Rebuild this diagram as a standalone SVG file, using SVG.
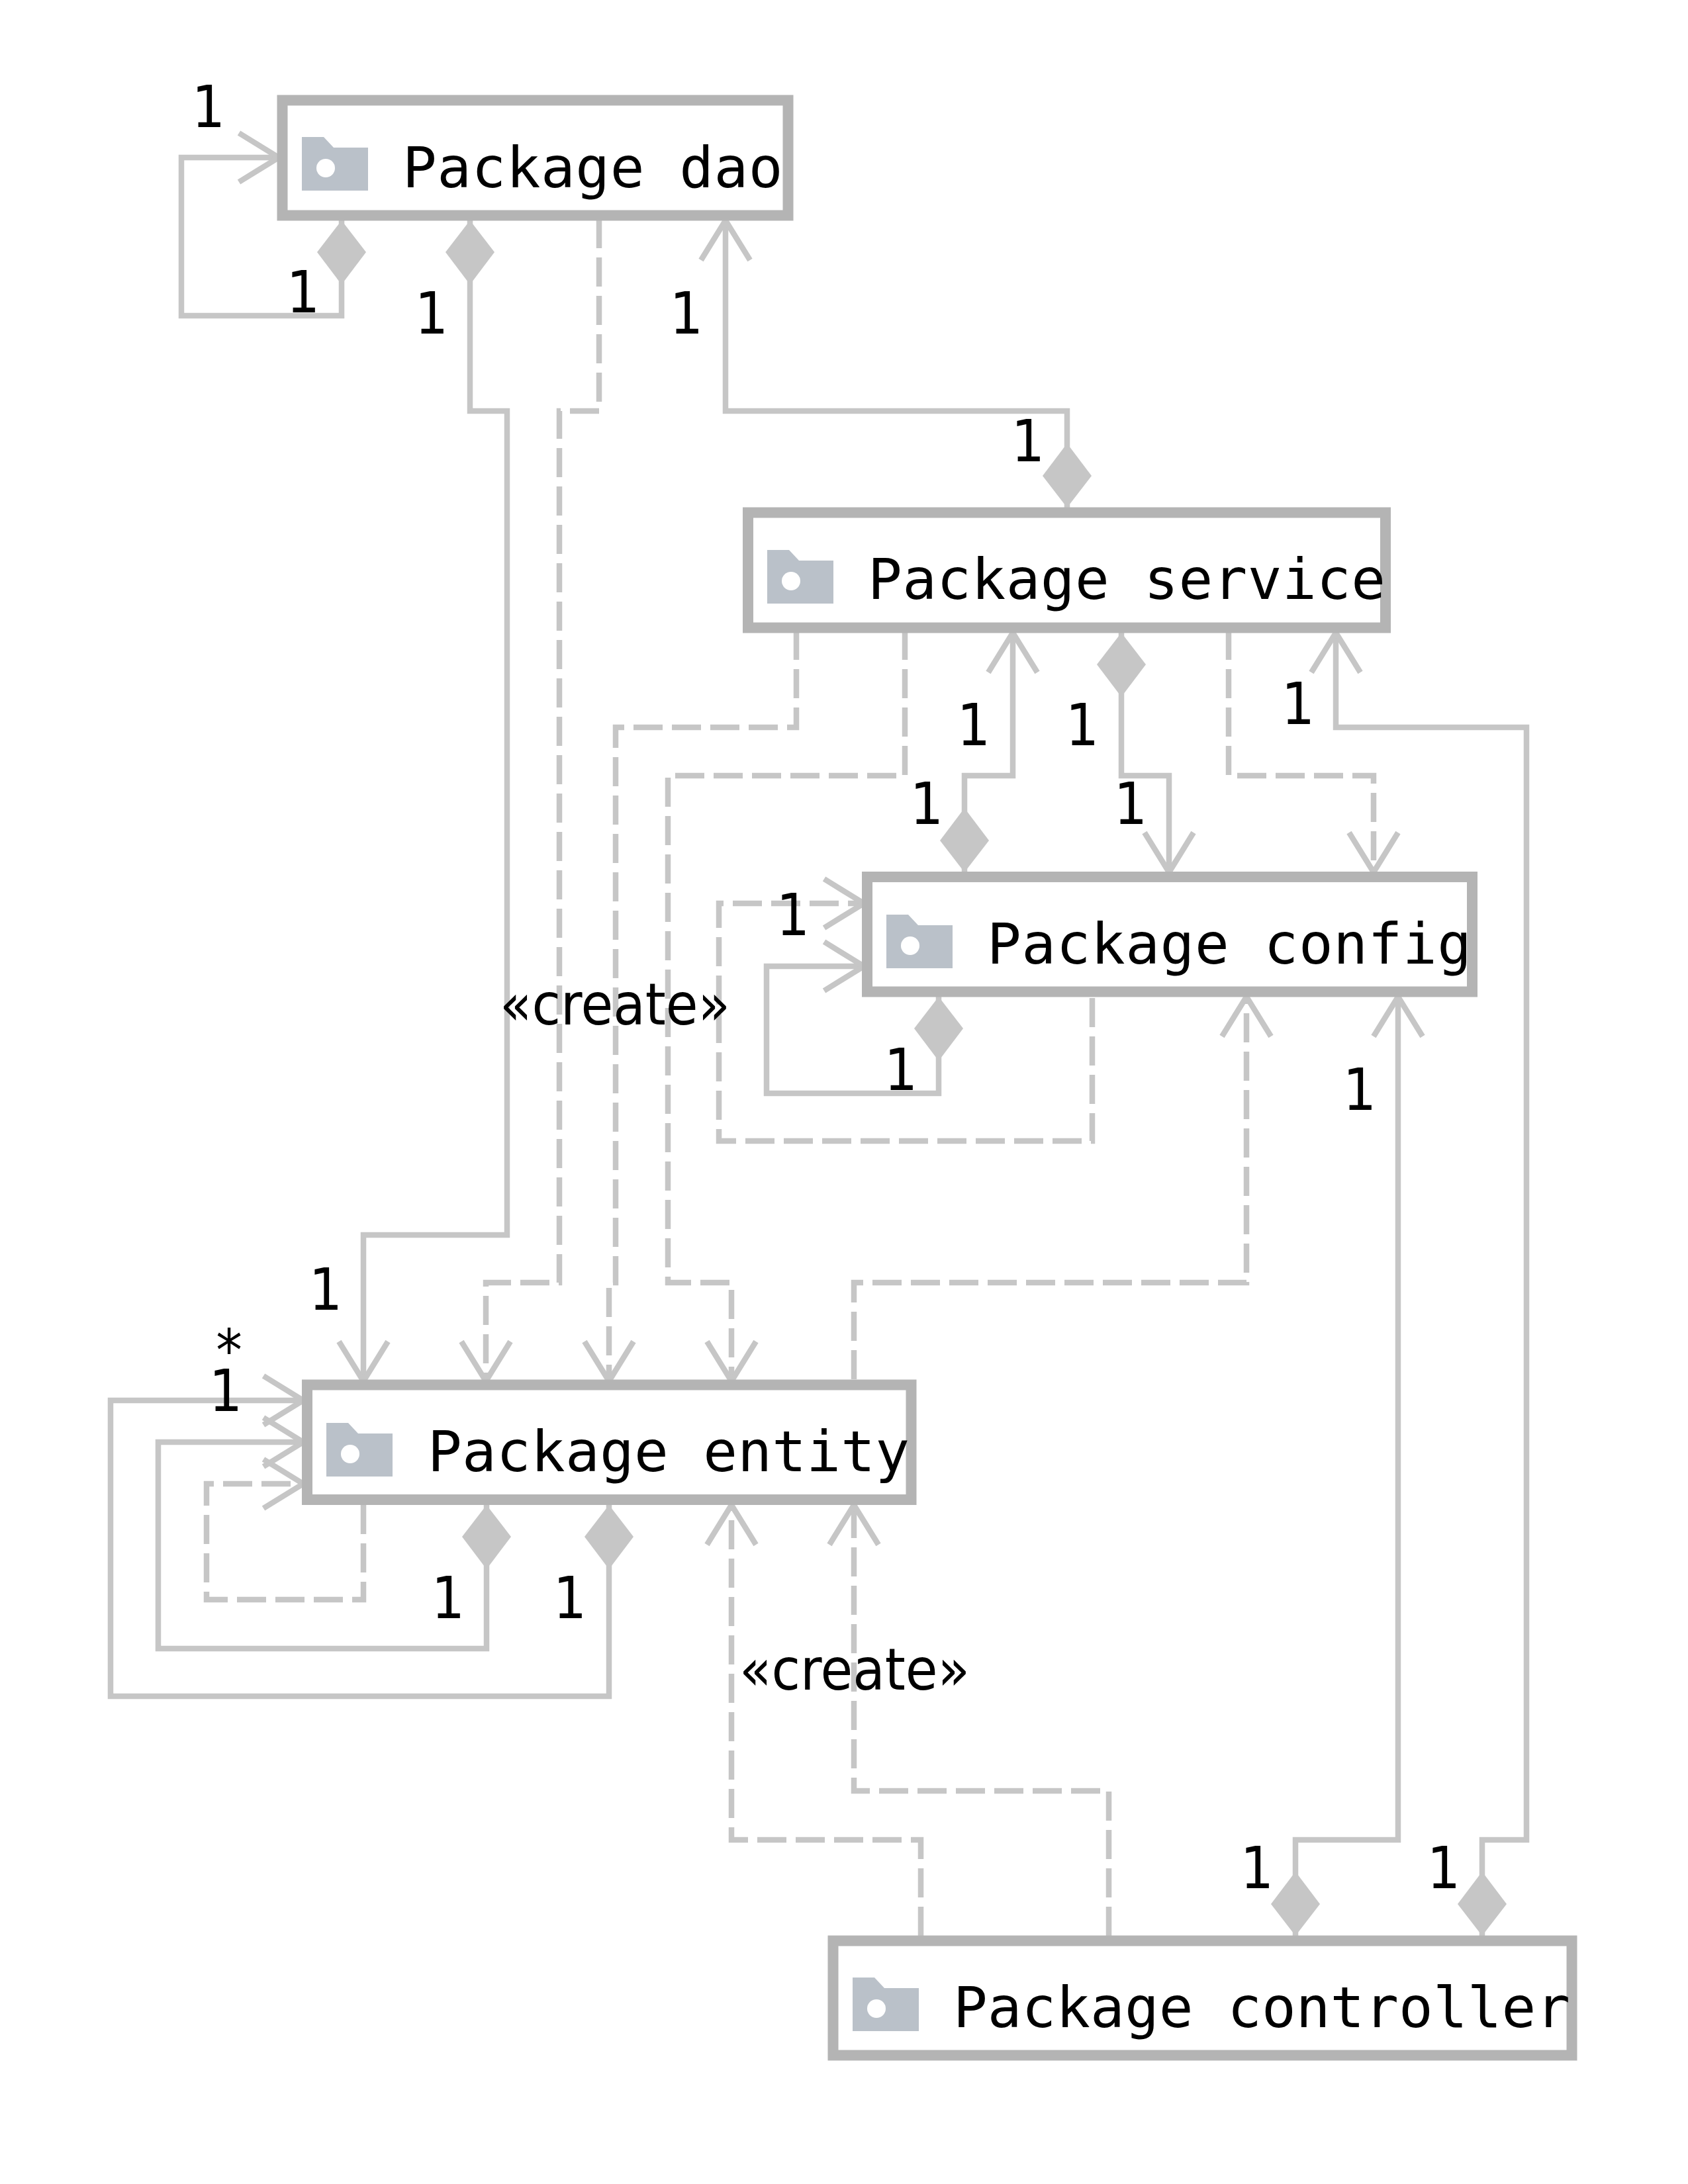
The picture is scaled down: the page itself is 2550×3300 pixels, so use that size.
<svg xmlns="http://www.w3.org/2000/svg" width="2550" height="3300" viewBox="0 0 2550 3300">
<style>
.bg{fill:#fff}
.box{fill:#fff;stroke:#b4b4b4;stroke-width:16}
.icon{fill:#bac1c9}
.hole{fill:#fff}
.name{font-family:"DejaVu Sans Mono",monospace;font-size:86px;fill:#000}
.c{fill:none;stroke:#c6c6c6;stroke-width:8.500;stroke-miterlimit:10}
.d{stroke-dasharray:44 14}
.a{marker-end:url(#arrow)}
.m{marker-start:url(#diamond)}
.n{font-family:"DejaVu Sans",sans-serif;font-stretch:condensed;font-size:88px;fill:#000;text-anchor:middle}
.s{font-family:"DejaVu Sans",sans-serif;font-stretch:condensed;font-size:88px;fill:#000}
</style>
<defs>
<marker id="arrow" markerUnits="userSpaceOnUse" markerWidth="80" markerHeight="100" refX="70" refY="50" orient="auto" overflow="visible">
<path d="M10,13 L70,50 L10,87" fill="none" stroke="#c6c6c6" stroke-width="8.500"/>
</marker>
<marker id="diamond" markerUnits="userSpaceOnUse" markerWidth="100" markerHeight="80" refX="0" refY="40" orient="auto" overflow="visible">
<path d="M0,40 L48,3 L97,40 L48,77 Z" fill="#c6c6c6"/>
</marker>
<g id="folder">
<path class="icon" d="M0,0 H33 L48,16 H100 V81 H0 Z"/>
<circle class="hole" cx="36" cy="47" r="14"/>
</g>
</defs>
<rect class="bg" width="2550" height="3300"/>
<g id="connectors">
<polyline class="c m a" points="516,333 516,477 274,477 274,238 421,238"/>
<polyline class="c m a" points="710,333 710,621 766,621 766,1866 549,1866 549,2087"/>
<polyline class="c d a" points="905,331 905,621 845,621 845,1938 734,1938 734,2087"/>
<polyline class="c m a" points="1612,767 1612,621 1096,621 1096,333"/>
<polyline class="c d a" points="1203,953 1203,1099 930,1099 930,1938 920,1938 920,2087"/>
<polyline class="c d a" points="1367,953 1367,1172 1009,1172 1009,1938 1105,1938 1105,2087"/>
<polyline class="c m a" points="1457,1318 1457,1172 1530,1172 1530,956"/>
<polyline class="c m a" points="1694,956 1694,1172 1766,1172 1766,1318"/>
<polyline class="c d a" points="1856,953 1856,1172 2075,1172 2075,1318"/>
<polyline class="c m a" points="2239,2925 2239,2780 2306,2780 2306,1099 2018,1099 2018,956"/>
<polyline class="c d a" points="1650,1508 1650,1724 1086,1724 1086,1365 1305,1365"/>
<polyline class="c m a" points="1418,1506 1418,1652 1158,1652 1158,1460 1305,1460"/>
<polyline class="c d a" points="1290,2084 1290,1938 1883,1938 1883,1506"/>
<polyline class="c m a" points="1957,2925 1957,2780 2112,2780 2112,1506"/>
<polyline class="c m a" points="920,2274 920,2563 167,2563 167,2116 458,2116"/>
<polyline class="c m a" points="735,2274 735,2491 239,2491 239,2179 458,2179"/>
<polyline class="c d a" points="549,2274 549,2417 312,2417 312,2242 458,2242"/>
<polyline class="c d a" points="1391,2925 1391,2780 1105,2780 1105,2274"/>
<polyline class="c d a" points="1675,2925 1675,2706 1290,2706 1290,2274"/>
</g>
<g id="node-dao">
<rect class="box" x="426.500" y="151.500" width="764" height="174"/>
<use href="#folder" x="456" y="207"/>
<text class="name" x="608" y="283" textLength="574.500">Package dao</text>
</g>
<g id="node-service">
<rect class="box" x="1130" y="774.500" width="963" height="174"/>
<use href="#folder" x="1159" y="831"/>
<text class="name" x="1311" y="905" textLength="782">Package service</text>
</g>
<g id="node-config">
<rect class="box" x="1310" y="1325" width="914" height="173.500"/>
<use href="#folder" x="1339" y="1382"/>
<text class="name" x="1491" y="1456" textLength="732">Package config</text>
</g>
<g id="node-entity">
<rect class="box" x="464" y="2092.500" width="912.500" height="173.500"/>
<use href="#folder" x="493" y="2150"/>
<text class="name" x="646" y="2223" textLength="728">Package entity</text>
</g>
<g id="node-controller">
<rect class="box" x="1258.500" y="2932.500" width="1116" height="173"/>
<use href="#folder" x="1288" y="2988"/>
<text class="name" x="1440" y="3063" textLength="932">Package controller</text>
</g>
<g id="labels">
<text class="n" x="315" y="192">1</text>
<text class="n" x="458" y="472">1</text>
<text class="n" x="652" y="504">1</text>
<text class="n" x="1037" y="504">1</text>
<text class="n" x="1553" y="697">1</text>
<text class="n" x="1471" y="1126">1</text>
<text class="n" x="1635" y="1126">1</text>
<text class="n" x="1961" y="1094">1</text>
<text class="n" x="1400" y="1245">1</text>
<text class="n" x="1708" y="1245">1</text>
<text class="n" x="1198" y="1413">1</text>
<text class="n" x="1361" y="1647">1</text>
<text class="n" x="2054" y="1677">1</text>
<text class="n" x="492" y="1979">1</text>
<text class="n" x="341" y="2132">1</text>
<text class="n" x="677" y="2445">1</text>
<text class="n" x="861" y="2445">1</text>
<text class="n" x="1899" y="2853">1</text>
<text class="n" x="2181" y="2853">1</text>
<text class="s" x="346" y="2071" text-anchor="middle">*</text>
<text class="s" x="755" y="1548">«create»</text>
<text class="s" x="1117" y="2553">«create»</text>
</g>
</svg>
